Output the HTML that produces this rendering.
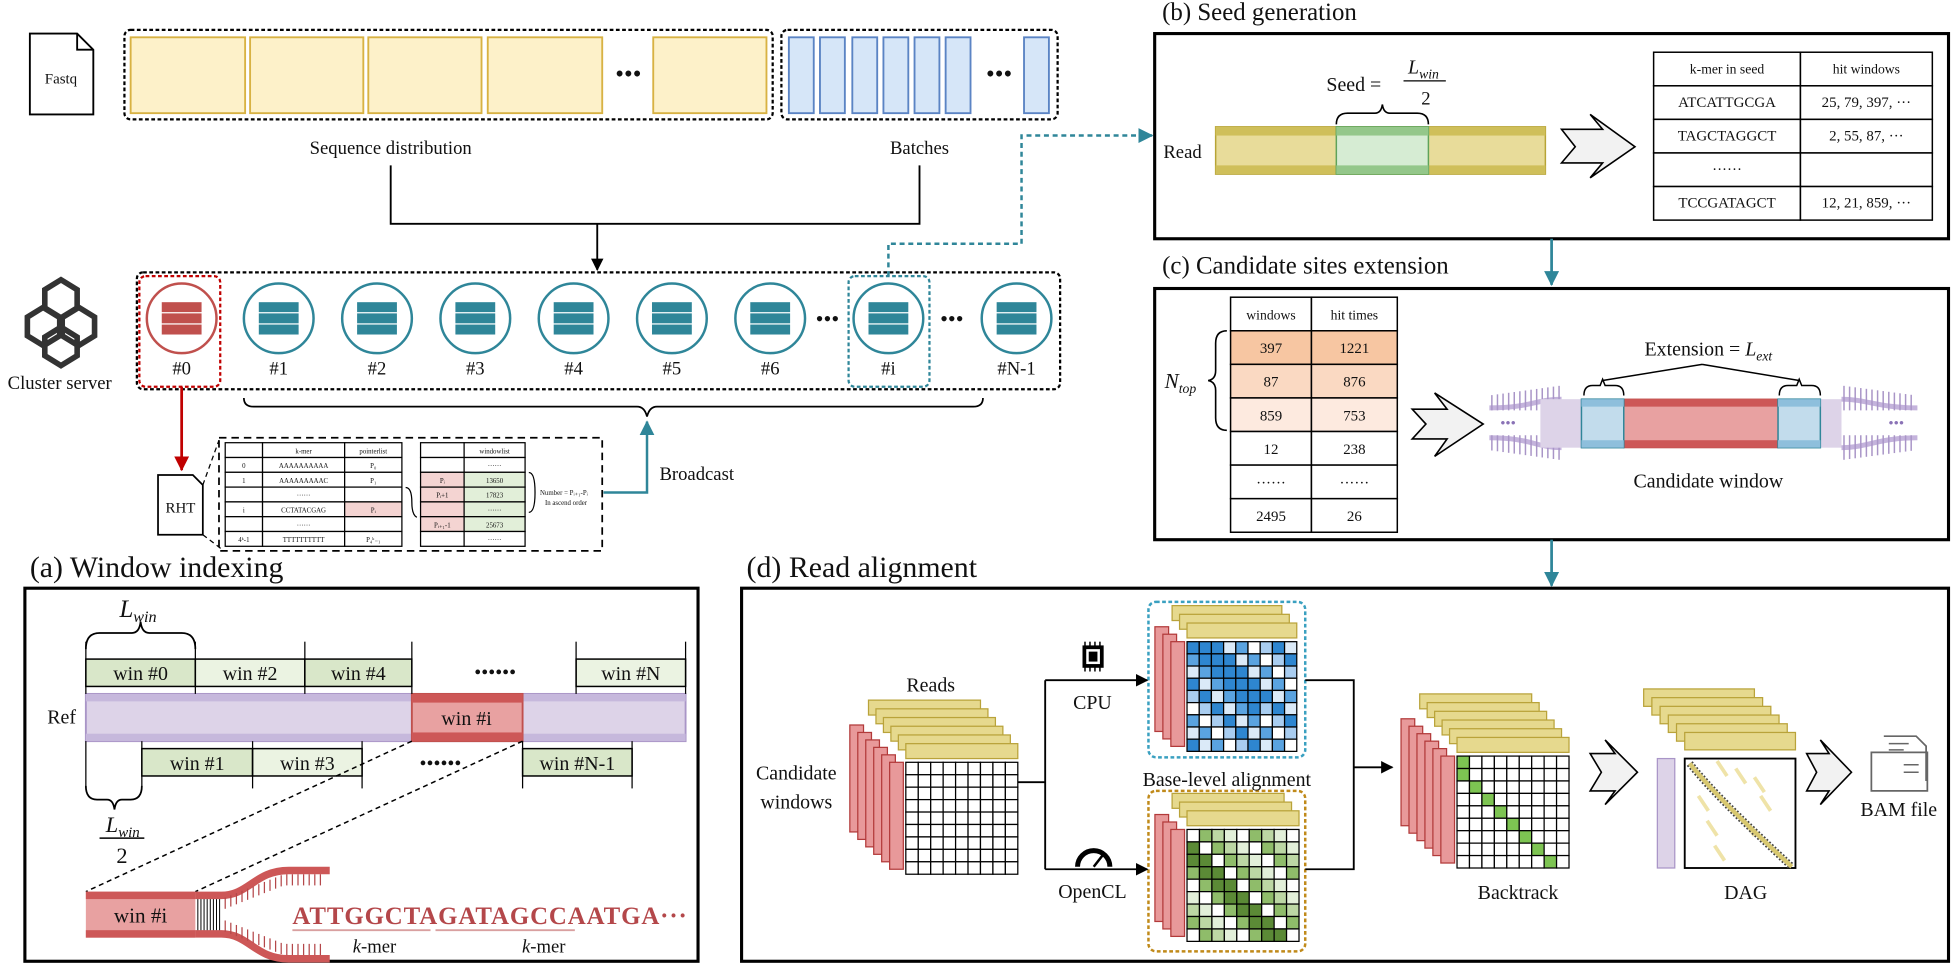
<!DOCTYPE html>
<html><head><meta charset="utf-8"><style>
html,body{margin:0;padding:0;background:#fff}
svg{display:block}
text{font-family:"Liberation Serif",serif;fill:#111}
</style></head><body>
<svg width="1951" height="965" viewBox="0 0 1568 776" preserveAspectRatio="none" font-family="Liberation Serif, serif" xmlns="http://www.w3.org/2000/svg">
<defs>
<marker id="ab" markerWidth="10" markerHeight="10" refX="9" refY="5" orient="auto" markerUnits="userSpaceOnUse"><path d="M0,0 L10,5 L0,10 z" fill="#000"/></marker>
<marker id="at" markerWidth="12" markerHeight="12" refX="11" refY="6" orient="auto" markerUnits="userSpaceOnUse"><path d="M0,0 L12,6 L0,12 z" fill="#2f8699"/></marker>
<marker id="ar" markerWidth="12" markerHeight="12" refX="11" refY="6" orient="auto" markerUnits="userSpaceOnUse"><path d="M0,0 L12,6 L0,12 z" fill="#c00000"/></marker>
</defs>

<!-- Fastq -->
<path d="M24,27 H62 L75,40 V92 H24 Z M62,27 V40 H75" fill="#fff" stroke="#000" stroke-width="1.5"/>
<text x="49" y="67" font-size="12" text-anchor="middle">Fastq</text>
<rect x="100" y="24" width="521" height="72" rx="5" fill="none" stroke="#000" stroke-width="1.8" stroke-dasharray="3,2"/>
<rect x="628" y="24" width="222" height="72" rx="5" fill="none" stroke="#000" stroke-width="1.8" stroke-dasharray="3,2"/>
<g fill="#fdf1c9" stroke="#d8b243" stroke-width="1.5">
<rect x="105" y="30" width="92" height="61"/><rect x="201" y="30" width="91" height="61"/><rect x="296" y="30" width="91" height="61"/><rect x="392" y="30" width="92" height="61"/><rect x="525" y="30" width="91" height="61"/>
</g>
<text x="505" y="66" font-size="20" text-anchor="middle">•••</text>
<g id="blue" fill="#d6e6f8" stroke="#5b84c4" stroke-width="1.5"></g>
<text x="803" y="66" font-size="20" text-anchor="middle">•••</text>
<text x="314" y="124" font-size="15" text-anchor="middle">Sequence distribution</text>
<text x="739" y="124" font-size="15" text-anchor="middle">Batches</text>
<path d="M314,133 V180 H739 V133" fill="none" stroke="#000" stroke-width="1.5"/>
<path d="M480,180 V217" stroke="#000" stroke-width="1.5" marker-end="url(#ab)"/>

<!-- cluster -->
<g fill="none" stroke="#333" stroke-width="4.5">
<polygon points="49,225 62,233 62,248 49,256 36,248 36,233"/>
<polygon points="35,247 48,255 48,270 35,278 22,270 22,255"/>
<polygon points="63,247 76,255 76,270 63,278 50,270 50,255"/>
<polygon points="49,263 62,271 62,286 49,294 36,286 36,271"/>
</g>
<text x="48" y="313" font-size="15" text-anchor="middle">Cluster server</text>
<rect x="110" y="219" width="742" height="94" rx="5" fill="none" stroke="#000" stroke-width="1.8" stroke-dasharray="3,2"/>
<rect x="112" y="222" width="65" height="89" rx="5" fill="none" stroke="#c00000" stroke-width="1.8" stroke-dasharray="3,2"/>
<rect x="682" y="222" width="65" height="89" rx="5" fill="none" stroke="#2f8699" stroke-width="1.8" stroke-dasharray="3,2"/>
<g id="nodes"></g>
<text x="665" y="262" font-size="18" text-anchor="middle">•••</text>
<text x="765" y="262" font-size="18" text-anchor="middle">•••</text>
<path d="M196,320 Q196,327 204,327 H512 Q518,327 520,335 Q522,327 528,327 H782 Q790,327 790,320" fill="none" stroke="#000" stroke-width="1.4"/>
<path d="M485,396 H520 V339" fill="none" stroke="#2f8699" stroke-width="2" marker-end="url(#at)"/>
<text x="530" y="386" font-size="15">Broadcast</text>
<path d="M146,311 V378" stroke="#c00000" stroke-width="2.2" marker-end="url(#ar)"/>
<path d="M127,382 H155 L163,390 V430 H127 Z" fill="#fff" stroke="#000" stroke-width="1.4"/>
<text x="145" y="412" font-size="12" text-anchor="middle">RHT</text>
<path d="M163,390 L176,354 M163,430 L180,443" stroke="#000" stroke-width="1" stroke-dasharray="4,3"/>
<rect x="176" y="352" width="308" height="91" fill="none" stroke="#000" stroke-width="1.4" stroke-dasharray="6,4"/>
<g id="rht"></g>
<path d="M714,222 V196 H821 V109 H926" fill="none" stroke="#2f8699" stroke-width="2" stroke-dasharray="4,3" marker-end="url(#at)"/>

<!-- (a) -->
<text x="24" y="464" font-size="24">(a) Window indexing</text>
<rect x="20" y="473" width="541" height="300" fill="none" stroke="#000" stroke-width="2.5"/>
<g id="wins"></g>
<text x="38" y="582" font-size="16">Ref</text>
<path d="M69,522 Q69,509 80,509 H106 Q112,509 113,500 Q114,509 120,509 H146 Q157,509 157,522" fill="none" stroke="#000" stroke-width="1.4"/>
<text x="96" y="496" font-size="20" font-style="italic">L<tspan font-size="13" dy="4">win</tspan></text>
<path d="M69,632 Q69,643 78,643 H86 Q91,643 92,651 Q93,643 98,643 H105 Q114,643 114,632" fill="none" stroke="#000" stroke-width="1.4"/>
<text x="85" y="669" font-size="18" font-style="italic">L<tspan font-size="12" dy="4">win</tspan></text>
<line x1="80" y1="674" x2="116" y2="674" stroke="#000" stroke-width="1.2"/>
<text x="98" y="694" font-size="18" text-anchor="middle">2</text>
<text x="398" y="546" font-size="16" text-anchor="middle">••••••</text>
<text x="354" y="619" font-size="16" text-anchor="middle">••••••</text>
<path d="M331,596 L69,717 M420,596 L157,717" stroke="#000" stroke-width="1.2" stroke-dasharray="4,3"/>
<rect x="69" y="717" width="88" height="37" fill="#e8a1a1"/>
<rect x="69" y="717" width="88" height="6" fill="#cd5757"/><rect x="69" y="748" width="88" height="6" fill="#cd5757"/>
<text x="113" y="742" font-size="17" text-anchor="middle">win #i</text>
<g id="fork"></g>
<text x="235" y="743" font-size="20" font-weight="bold" textLength="317" lengthAdjust="spacing" style="fill:#b4474a">ATTGGCTAGATAGCCAATGA···</text>
<line x1="235" y1="748" x2="346" y2="748" stroke="#d9a0a0" stroke-width="1.5"/>
<line x1="350" y1="748" x2="462" y2="748" stroke="#d9a0a0" stroke-width="1.5"/>
<text x="301" y="766" font-size="15" text-anchor="middle"><tspan font-style="italic">k</tspan>-mer</text>
<text x="437" y="766" font-size="15" text-anchor="middle"><tspan font-style="italic">k</tspan>-mer</text>

<!-- (b) -->
<text x="934" y="16" font-size="20">(b) Seed generation</text>
<rect x="928" y="27" width="638" height="165" fill="none" stroke="#000" stroke-width="2.5"/>
<text x="935" y="127" font-size="15">Read</text>
<rect x="977" y="102" width="265" height="38" fill="#e8dc9a" stroke="#b7a436" stroke-width="1.2"/>
<rect x="977" y="102" width="265" height="7" fill="#cfbf5a"/><rect x="977" y="133" width="265" height="7" fill="#cfbf5a"/>
<rect x="1074" y="102" width="74" height="38" fill="#d6ecd3" stroke="#5fa35a" stroke-width="1.2"/>
<rect x="1074" y="102" width="74" height="7" fill="#94c78a"/><rect x="1074" y="133" width="74" height="7" fill="#94c78a"/>
<path d="M1074,100 Q1074,91 1083,91 H1105 Q1110,91 1111,84 Q1112,91 1117,91 H1139 Q1148,91 1148,100" fill="none" stroke="#000" stroke-width="1.3"/>
<text x="1066" y="73" font-size="16">Seed =</text>
<text x="1144" y="59" font-size="16" font-style="italic" text-anchor="middle">L<tspan font-size="11" dy="4">win</tspan></text>
<line x1="1128" y1="65" x2="1162" y2="65" stroke="#000"/>
<text x="1146" y="84" font-size="15" text-anchor="middle">2</text>
<path d="M1255,104 H1288 L1278,92 L1314,118 L1278,143 L1288,131 H1255 L1266,118 Z" fill="#f2f2f2" stroke="#000" stroke-width="1.3"/>
<g id="tb"></g>
<path d="M1247,192 V229" stroke="#2f8699" stroke-width="2.2" marker-end="url(#at)"/>

<!-- (c) -->
<text x="934" y="220" font-size="20">(c) Candidate sites extension</text>
<rect x="928" y="232" width="638" height="202" fill="none" stroke="#000" stroke-width="2.5"/>
<g id="tc"></g>
<text x="936" y="312" font-size="17" font-style="italic">N<tspan font-size="11" dy="4">top</tspan></text>
<path d="M986,266 Q977,266 977,276 V298 Q977,305 971,306 Q977,307 977,314 V336 Q977,346 986,346" fill="none" stroke="#000" stroke-width="1.3"/>
<path d="M1135,329 H1163 L1153,316 L1192,341 L1153,367 L1163,353 H1135 L1146,341 Z" fill="#f2f2f2" stroke="#000" stroke-width="1.3"/>
<g id="strand"></g>
<text x="1373" y="286" font-size="16" text-anchor="middle">Extension = <tspan font-style="italic">L</tspan><tspan font-size="11" font-style="italic" dy="4">ext</tspan></text>
<path d="M1368,293 L1288,306 M1368,293 L1446,306" stroke="#000" stroke-width="1.2" fill="none"/>
<path d="M1273,318 Q1273,310 1280,310 L1286,310 L1288,305 L1290,310 L1298,310 Q1305,310 1305,318" fill="none" stroke="#000" stroke-width="1.2"/>
<path d="M1430,318 Q1430,310 1437,310 L1444,310 L1446,305 L1448,310 L1456,310 Q1463,310 1463,318" fill="none" stroke="#000" stroke-width="1.2"/>
<text x="1373" y="392" font-size="16" text-anchor="middle">Candidate window</text>
<path d="M1247,434 V471" stroke="#2f8699" stroke-width="2.2" marker-end="url(#at)"/>

<!-- (d) -->
<text x="600" y="464" font-size="24">(d) Read alignment</text>
<rect x="596" y="473" width="970" height="300" fill="none" stroke="#000" stroke-width="2.5"/>
<g id="dg"></g>
<text x="748" y="556" font-size="16" text-anchor="middle">Reads</text>
<text x="640" y="627" font-size="16" text-anchor="middle">Candidate</text>
<text x="640" y="650" font-size="16" text-anchor="middle">windows</text>
<text x="878" y="570" font-size="16" text-anchor="middle">CPU</text>
<text x="878" y="722" font-size="16" text-anchor="middle">OpenCL</text>
<text x="986" y="632" font-size="16" text-anchor="middle">Base-level alignment</text>
<text x="1220" y="723" font-size="16" text-anchor="middle">Backtrack</text>
<text x="1403" y="723" font-size="16" text-anchor="middle">DAG</text>
<text x="1526" y="656" font-size="16" text-anchor="middle">BAM file</text>
<path d="M818,629 H840 M840,547 V699" fill="none" stroke="#000" stroke-width="1.5"/>
<path d="M840,547 H922" stroke="#000" stroke-width="1.5" marker-end="url(#ab)"/>
<path d="M840,699 H922" stroke="#000" stroke-width="1.5" marker-end="url(#ab)"/>
<path d="M1049,547 H1088 V699 H1049" fill="none" stroke="#000" stroke-width="1.5"/>
<path d="M1088,617 H1119" stroke="#000" stroke-width="1.5" marker-end="url(#ab)"/>
<g stroke="#000" stroke-width="1.2"><line x1="872" y1="516" x2="872" y2="540"/><line x1="876" y1="516" x2="876" y2="540"/><line x1="880" y1="516" x2="880" y2="540"/><line x1="884" y1="516" x2="884" y2="540"/></g>
<rect x="870" y="519" width="17" height="18" fill="#000"/><rect x="873" y="522" width="11" height="12" fill="#fff"/><rect x="875" y="524" width="7" height="8" fill="#000"/>
<path d="M866,697 A13,13 0 0 1 892,697" fill="none" stroke="#000" stroke-width="4"/><line x1="879" y1="697" x2="886" y2="688" stroke="#000" stroke-width="2"/>
<path d="M1278,606 H1298 L1290,595 L1316,621 L1290,647 L1298,636 H1278 L1287,621 Z" fill="#f2f2f2" stroke="#000" stroke-width="1.3"/>
<path d="M1452,606 H1470 L1463,595 L1488,621 L1463,647 L1470,636 H1452 L1460,621 Z" fill="#f2f2f2" stroke="#000" stroke-width="1.3"/>
<path d="M1514,592 H1540 L1548,600 V628 M1504,605 H1549 V636 H1504 Z" fill="#fff" stroke="#666" stroke-width="1.4"/>
<path d="M1518,598 H1534 M1518,603 H1530 M1530,615 H1542 M1530,621 H1542" stroke="#666" stroke-width="1.2"/>
</svg>
<script>
const S='http://www.w3.org/2000/svg';
function el(p,t,a,txt){const e=document.createElementNS(S,t);for(const k in a)e.setAttribute(k,a[k]);if(txt!=null)e.textContent=txt;document.getElementById(p).appendChild(e);return e;}
[634,659,685,710,735,760,823].forEach(x=>el('blue','rect',{x:x,y:30,width:20,height:61}));
[[146,'#0',1],[224,'#1'],[303,'#2'],[382,'#3'],[461,'#4'],[540,'#5'],[619,'#6'],[714,'#i'],[817,'#N-1']].forEach(n=>{
 const c=n[2]?'#c0504d':'#2f8699';
 el('nodes','circle',{cx:n[0],cy:256,r:28,fill:'#fff',stroke:c,'stroke-width':2});
 for(let i=0;i<3;i++)el('nodes','rect',{x:n[0]-16,y:243+i*9,width:32,height:8,fill:c});
 el('nodes','text',{x:n[0],y:301,'font-size':15,'text-anchor':'middle'},n[1]);
});
const r1=[['','k-mer','pointerlist'],['0','AAAAAAAAAA','P₀'],['1','AAAAAAAAAC','P₁'],['','······',''],['i','CCTATACGAG','Pᵢ'],['','······',''],['4ᵏ-1','TTTTTTTTTT','P₄ᵏ₋₁']];
const r2=[['','windowlist'],['','······'],['Pᵢ','13650'],['Pᵢ+1','17823'],['','······'],['Pᵢ₊₁-1','25673'],['','······']];
r1.forEach((r,i)=>{const y=356+i*11.9;[[181,30],[211,66],[277,46]].forEach((c,j)=>{
 el('rht','rect',{x:c[0],y:y,width:c[1],height:11.9,fill:(i==4&&j==2)?'#f4d4d2':'#fff',stroke:'#000','stroke-width':1});
 el('rht','text',{x:c[0]+c[1]/2,y:y+8.5,'font-size':5.5,'text-anchor':'middle'},r[j]);});});
r2.forEach((r,i)=>{const y=356+i*11.9;[[338,35],[373,49]].forEach((c,j)=>{
 let f='#fff';if(i>=2&&i<=5)f=j==0?'#f4d4d2':'#e2efd9';
 el('rht','rect',{x:c[0],y:y,width:c[1],height:11.9,fill:f,stroke:'#000','stroke-width':1});
 el('rht','text',{x:c[0]+c[1]/2,y:y+8.5,'font-size':5.5,'text-anchor':'middle'},r[j]);});});
el('rht','text',{x:434,y:398,'font-size':5.5},'Number = Pᵢ₊₁-Pᵢ');
el('rht','text',{x:438,y:406,'font-size':5.5},'In ascend order');
el('rht','path',{d:'M326,392 Q331,392 331,404 Q331,414 335,416',fill:'none',stroke:'#000'});
el('rht','path',{d:'M425,380 Q430,380 430,396 Q430,412 425,412',fill:'none',stroke:'#000'});
function win(x,y,w,f,t){el('wins','rect',{x:x,y:y,width:w,height:22,fill:f,stroke:'#000','stroke-width':1.2});el('wins','text',{x:x+w/2,y:y+17,'font-size':16,'text-anchor':'middle'},t);}
el('wins','rect',{x:69,y:558,width:482,height:38,fill:'#ddd3e8',stroke:'#a995c7','stroke-width':1.5});
el('wins','rect',{x:69,y:558,width:482,height:6,fill:'#c6b8dc'});el('wins','rect',{x:69,y:590,width:482,height:6,fill:'#c6b8dc'});
el('wins','rect',{x:331,y:558,width:89,height:38,fill:'#e8a1a1',stroke:'#c0504d','stroke-width':1.5});
el('wins','rect',{x:331,y:558,width:89,height:7,fill:'#cd5757'});el('wins','rect',{x:331,y:589,width:89,height:7,fill:'#cd5757'});
el('wins','text',{x:375,y:583,'font-size':16,'text-anchor':'middle'},'win #i');
win(69,530,88,'#d9e7c9','win #0');win(157,530,88,'#ebf3e2','win #2');win(245,530,86,'#d9e7c9','win #4');win(463,530,88,'#ebf3e2','win #N');
win(114,602,89,'#d9e7c9','win #1');win(203,602,88,'#ebf3e2','win #3');win(420,602,88,'#d9e7c9','win #N-1');
[69,157,245,331,463,551].forEach(x=>el('wins','line',{x1:x,y1:516,x2:x,y2:558,stroke:'#000'}));
[69,114,203,291,420,508].forEach(x=>el('wins','line',{x1:x,y1:596,x2:x,y2:634,stroke:'#000'}));
el('fork','path',{d:'M157,720 H178 C200,720 205,700 232,700 H265 M157,751 H178 C200,751 205,771 232,771 H265',fill:'none',stroke:'#cd5757','stroke-width':6});
for(let x=159;x<178;x+=2.5)el('fork','line',{x1:x,y1:723,x2:x,y2:748,stroke:'#000','stroke-width':0.8});
for(let x=181;x<262;x+=4.5){const t=Math.min(1,(x-178)/50);el('fork','line',{x1:x,y1:723-t*20,x2:x,y2:732-t*20,stroke:'#b4474a','stroke-width':1});el('fork','line',{x1:x,y1:748+t*20,x2:x,y2:739+t*20,stroke:'#b4474a','stroke-width':1});}
const tb=[['k-mer in seed','hit windows'],['ATCATTGCGA','25, 79, 397, ···'],['TAGCTAGGCT','2, 55, 87, ···'],['······',''],['TCCGATAGCT','12, 21, 859, ···']];
tb.forEach((r,i)=>{const y=42+i*27;[[1329,118],[1447,106]].forEach((c,j)=>{el('tb','rect',{x:c[0],y:y,width:c[1],height:27,fill:'#fff',stroke:'#000','stroke-width':1.2});
 el('tb','text',{x:c[0]+c[1]/2,y:y+17,'font-size':i==0?11:12,'text-anchor':'middle'},r[j]);});});
const tc=[['windows','hit times','#fff'],['397','1221','#f7c6a2'],['87','876','#fad9c2'],['859','753','#fdeadf'],['12','238','#fff'],['······','······','#fff'],['2495','26','#fff']];
tc.forEach((r,i)=>{const y=239+i*27;[[989,65],[1054,69]].forEach((c,j)=>{el('tc','rect',{x:c[0],y:y,width:c[1],height:27,fill:r[2],stroke:'#000','stroke-width':1.2});
 el('tc','text',{x:c[0]+c[1]/2,y:y+18,'font-size':i==0?11:12,'text-anchor':'middle'},r[j]);});});
const sg='strand';
el(sg,'path',{d:'M1197,328 C1230,328 1235,321 1255,321 M1197,352 C1230,352 1235,360 1255,360 M1480,321 C1500,321 1510,328 1541,328 M1480,360 C1500,360 1510,352 1541,352',fill:'none',stroke:'#c4b3dc','stroke-width':4});
for(let x=1199;x<1254;x+=4.5){const t=(x-1197)/58;el(sg,'line',{x1:x,y1:318-t*8,x2:x,y2:330,stroke:'#a995c7','stroke-width':1.2});el(sg,'line',{x1:x,y1:350,x2:x,y2:362+t*8,stroke:'#a995c7','stroke-width':1.2});}
for(let x=1482;x<1540;x+=4.5){const t=1-(x-1480)/60;el(sg,'line',{x1:x,y1:318-t*8,x2:x,y2:330,stroke:'#a995c7','stroke-width':1.2});el(sg,'line',{x1:x,y1:350,x2:x,y2:362+t*8,stroke:'#a995c7','stroke-width':1.2});}
el(sg,'rect',{x:1238,y:321,width:242,height:39,fill:'#ddd3e8'});
el(sg,'rect',{x:1305,y:321,width:124,height:39,fill:'#e8a1a1',stroke:'#c0504d'});
el(sg,'rect',{x:1305,y:321,width:124,height:6,fill:'#cd5757'});el(sg,'rect',{x:1305,y:354,width:124,height:6,fill:'#cd5757'});
[1271,1429].forEach(x=>{el(sg,'rect',{x:x,y:321,width:34,height:39,fill:'#c2dcec',stroke:'#2f8699','stroke-width':1.2});el(sg,'rect',{x:x,y:321,width:34,height:6,fill:'#8ebfdc'});el(sg,'rect',{x:x,y:354,width:34,height:6,fill:'#8ebfdc'});});
el(sg,'text',{x:1212,y:344,'font-size':12,'text-anchor':'middle',style:'fill:#8a72b6'},'•••');el(sg,'text',{x:1524,y:344,'font-size':12,'text-anchor':'middle',style:'fill:#8a72b6'},'•••');
function stack(gx,gy,n,cell,fill,cnt){
 const W=n*cell;
 for(let k=0;k<cnt;k++){const o=cnt-1-k;el('dg','rect',{x:gx-13-o*6.4,y:gy-o*6,width:11,height:W-4,fill:'#e8999a',stroke:'#b23a3a','stroke-width':1});}
 for(let k=0;k<cnt;k++){const o=cnt-1-k;el('dg','rect',{x:gx-o*6,y:gy-15-o*7,width:W,height:12,fill:'#e6d98e',stroke:'#b9a33a','stroke-width':1});}
 for(let i=0;i<n;i++)for(let j=0;j<n;j++)el('dg','rect',{x:gx+j*cell,y:gy+i*cell,width:cell,height:cell,fill:fill(i,j),stroke:'#000','stroke-width':1});
}
stack(728,613,9,10,()=>'#fff',6);
const bl=['#fff','#dbeaf8','#a9cdf0','#5aa3e0','#2e86d0'];
stack(954,516,9,9.8,(i,j)=>{return (i-j==-1||i-j==0)&&j<6?'#2e86d0':bl[(i*3+j*7)%5];},3);
stack(954,667,9,10,(i,j)=>{const d=i-j;return (d===1||d===2)?'#5b8a36':['#fff','#e2efd9','#bcd7a4','#8fbc6a'][(i*5+j*3)%4];},3);
el('dg','rect',{x:923,y:484,width:126,height:125,rx:6,fill:'none',stroke:'#3aa0c0','stroke-width':2,'stroke-dasharray':'3,2'});
el('dg','rect',{x:923,y:636,width:126,height:129,rx:6,fill:'none',stroke:'#c08a1a','stroke-width':2,'stroke-dasharray':'3,2'});
stack(1171,608,9,10,(i,j)=>(j==Math.floor(i*0.9)&&i>0)||(i==0&&j==0)?'#7dc452':'#fff',6);
el('dg','rect',{x:1332,y:610,width:14,height:88,fill:'#ddd3e8',stroke:'#a995c7'});
for(let k=0;k<6;k++){const o=5-k;el('dg','rect',{x:1354-o*6.6,y:589-o*7,width:89,height:14,fill:'#e6d98e',stroke:'#b9a33a'});}
el('dg','rect',{x:1354,y:610,width:89,height:88,fill:'#fff',stroke:'#000','stroke-width':1.5});
[[1365,640],[1372,660],[1378,680],[1380,612],[1395,618],[1410,625],[1402,660],[1415,640]].forEach(p=>el('dg','line',{x1:p[0],y1:p[1],x2:p[0]+8,y2:p[1]+12,stroke:'#efe3a8','stroke-width':3}));
el('dg','path',{d:'M1358,614 C1375,635 1395,655 1440,697',fill:'none',stroke:'#444','stroke-width':6,'stroke-dasharray':'1.5,1.5'});
el('dg','path',{d:'M1358,614 C1375,635 1395,655 1440,697',fill:'none',stroke:'#d8c870','stroke-width':3.5});
</script>
</body></html>
